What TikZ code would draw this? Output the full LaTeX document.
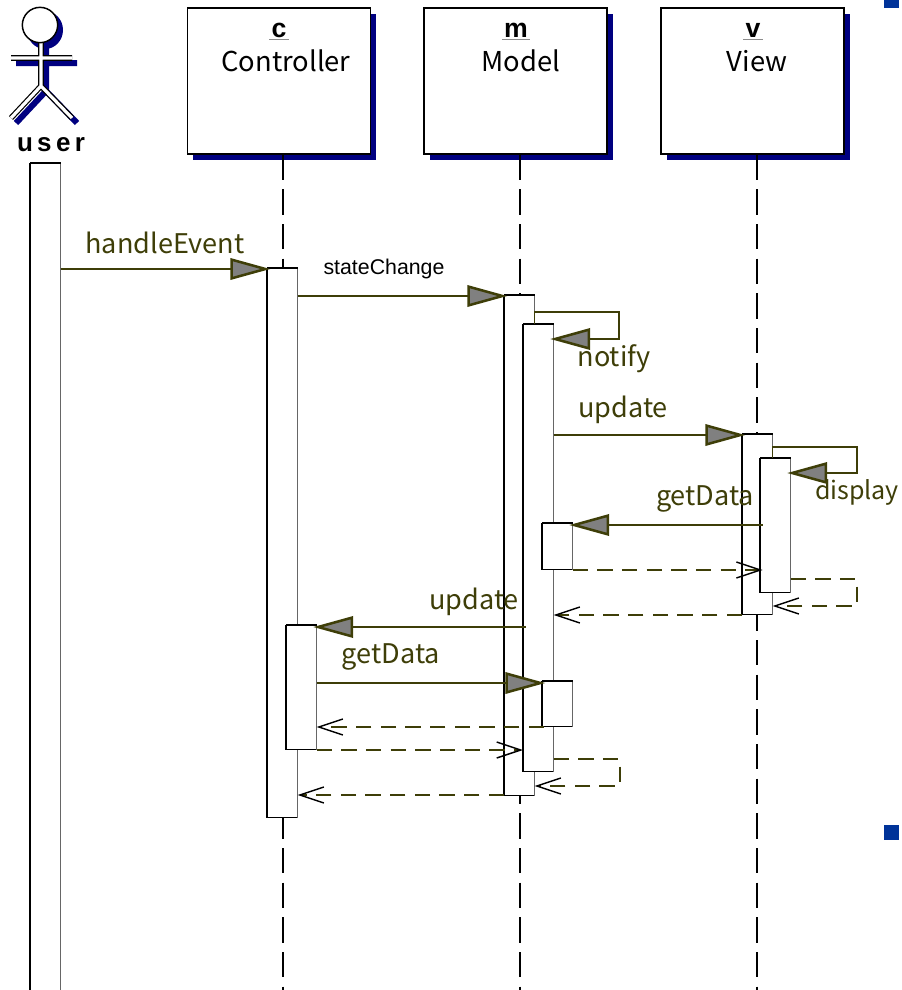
\documentclass[tikz,border=0pt]{standalone}
\usepackage{fontspec}
\setmainfont{Noto Sans CJK JP}
\newfontfamily\arialfont{Liberation Sans}
\usepackage{xcolor}
\usepackage{tikz}
\usetikzlibrary{arrows.meta, positioning, shadows}
\definecolor{msgcol}{RGB}{62,62,8}
\definecolor{tipgray}{RGB}{128,128,128}
\definecolor{shadownavy}{RGB}{0,0,128}
\definecolor{slideblue}{RGB}{0,51,153}
\tikzset{
    headbox/.style={rectangle, draw=black, line width=1.3pt, fill=white, anchor=north west, inner sep=0pt,
        minimum width=137.25pt, minimum height=109.5pt,
        general shadow={fill=shadownavy, shadow xshift=4.5pt, shadow yshift=-4.5pt}},
    headid/.style={font=\arialfont\bfseries\fontsize{20}{20}\selectfont, inner sep=1.5pt},
    headname/.style={font=\fontsize{20.5}{22}\selectfont, inner sep=0pt},
    lifeline/.style={draw=black, line width=1.5pt, dash pattern=on 19pt off 7pt},
    actbar/.style={rectangle, fill=white, inner sep=0pt, anchor=north west, minimum width=22.5pt,
        minimum height=#1*0.75pt,
        append after command={
            (\tikzlastnode.south west) edge[draw=black, line width=0.5pt] (\tikzlastnode.south east)
            (\tikzlastnode.south east) edge[draw=black!60, line width=0.5pt] (\tikzlastnode.north east)
            (\tikzlastnode.north east) edge[draw=black, line width=1.3pt] (\tikzlastnode.north west)
            (\tikzlastnode.north west) edge[draw=black, line width=1.3pt] (\tikzlastnode.south west)
        }},
    msg/.style={draw=msgcol, line width=1.3pt, shorten >=-2.5pt,
        -{Triangle[length=30pt, width=16pt, fill=tipgray, color=msgcol, line width=1.9pt]}},
    ret/.style={draw=msgcol, line width=1.3pt, dash pattern=on 11.5pt off 7pt,
        -{Straight Barb[length=18pt, width=12pt, black, line width=1.1pt]}},
    msglabel/.style={font=\fontsize{20.3}{22}\selectfont, text=msgcol, inner sep=0pt},
}

\begin{document}
\begin{tikzpicture}[x=0.75pt, y=-0.75pt]
    \clip (0,0) rectangle (901,990);
    % actor
    \coordinate (neck) at (41,43);
    \coordinate (hip) at (41,86);
    \coordinate (handl) at (11,58);
    \coordinate (handr) at (72,58);
    \coordinate (footl) at (11,118);
    \coordinate (footr) at (72,118);
    \draw[shadownavy, line width=4.5pt] (46,48) -- (46,91) (16,63) -- (77,63) (16,123) -- (46,91) -- (77,123);
    \fill[shadownavy] (45,30) ellipse (18 and 19);
    \draw[line width=0.9pt, draw=black, double=white, double distance=2.4pt] (neck) -- (hip) (handl) -- (handr) (footl) -- (hip) -- (footr);
    \node[circle, draw=black, line width=1.1pt, fill=white, minimum size=26.5pt, inner sep=0pt] (head) at (40,25) {};
    \node[font=\arialfont\bfseries\fontsize{19.5}{20}\selectfont, inner sep=0pt] (userlabel) at (51,145) {u\,s\,e\,r};

    % objects
    \node[headbox] (c) at (186.5,7) {};
    \node[headbox, right=39pt of c] (m) {};
    \node[headbox, right=39pt of m] (v) {};
    \node[headid] (cid) at (279,30) {c};
    \node[headid] (mid) at (516,30) {m};
    \node[headid] (vid) at (753,30) {v};
    \draw[black!45, line width=0.5pt] (cid.south west) -- (cid.south east);
    \draw[black!45, line width=0.5pt] (mid.south west) -- (mid.south east);
    \draw[black!45, line width=0.5pt] (vid.south west) -- (vid.south east);
    \node[headname] (cname) at (286,61) {Controller};
    \node[headname] (mname) at (521,61) {Model};
    \node[headname] (vname) at (757,61) {View};

    % life lines
    \coordinate (bottom) at (0,990);
    \draw[lifeline] ([xshift=3.4pt]c.south) -- ([xshift=3.4pt]c.south |- bottom);
    \draw[lifeline] ([xshift=3.4pt]m.south) -- ([xshift=3.4pt]m.south |- bottom);
    \draw[lifeline] ([xshift=3.4pt]v.south) -- ([xshift=3.4pt]v.south |- bottom);

    % activations
    \node[actbar=840] (ubar) at (30,163) {};
    \node[actbar=549] (c1) at (267,268) {};
    \node[actbar=124] (c2) at (286,625) {};
    \node[actbar=500] (m1) at (504,295) {};
    \node[actbar=447] (m2) at (523,324) {};
    \node[actbar=46] (m3) at (542,523) {};
    \node[actbar=45] (m4) at (542,681) {};
    \node[actbar=180] (v1) at (742,434) {};
    \node[actbar=134] (v2) at (760,458) {};

    % message levels
    \coordinate (y1) at (0,269);
    \coordinate (y2) at (0,296);
    \coordinate (y3) at (0,435);
    \coordinate (y4) at (0,525);
    \coordinate (y5) at (0,570);
    \coordinate (y6) at (0,615);
    \coordinate (y7) at (0,627);
    \coordinate (y8) at (0,683);
    \coordinate (y9) at (0,727);
    \coordinate (y10) at (0,750);
    \coordinate (y11) at (0,795);
    \coordinate (no1) at (619,312);
    \coordinate (no2) at (619,339);
    \coordinate (di1) at (857,447);
    \coordinate (di2) at (857,473);
    \coordinate (dr1) at (857,579);
    \coordinate (dr2) at (857,606);
    \coordinate (mr1) at (620,759);
    \coordinate (mr2) at (620,786);

    \draw[msg] (ubar.east |- y1) -- (c1.west |- y1);
    \draw[msg] (c1.east |- y2) -- (m1.west |- y2);
    \draw[msg] (m1.east |- m2.north) |- (no1) |- (m2.east |- no2);
    \draw[msg] (m2.east |- y3) -- (v1.west |- y3);
    \draw[msg] (v1.east |- v2.north) |- (di1) |- (v2.east |- di2);
    \draw[msg] ([xshift=2pt]v2.west |- y4) -- (m3.east |- y4);
    \draw[ret] (m3.east |- y5) -- ([xshift=2pt]v2.west |- y5);
    \draw[ret] (v2.east |- dr1) -| (dr1) |- (v1.east |- dr2);
    \draw[ret] (v1.west |- y6) -- (m2.east |- y6);
    \draw[msg] ([xshift=2pt]m2.west |- y7) -- (c2.east |- y7);
    \draw[msg] (c2.east |- y8) -- (m4.west |- y8);
    \draw[ret] ([xshift=1.5pt]m4.west |- y9) -- (c2.east |- y9);
    \draw[ret] (c2.east |- y10) -- (m2.west |- y10);
    \draw[ret] (m2.east |- mr1) -| (mr1) |- (m1.east |- mr2);
    \draw[ret] (m1.west |- y11) -- (c1.east |- y11);

    % labels
    \node[msglabel] (l1) at (165,243) {handleEvent};
    \node[font=\arialfont\fontsize{16}{18}\selectfont, inner sep=0pt] (l2) at (384,269) {stateChange};
    \node[msglabel] (l3) at (614,359) {notify};
    \node[msglabel] (l4) at (623,410) {update};
    \node[msglabel, font=\fontsize{18.8}{22}\selectfont] (l5) at (857,492) {display};
    \node[msglabel] (l6) at (705,499) {getData};
    \node[msglabel] (l7) at (474,602) {update};
    \node[msglabel] (l8) at (391,657) {getData};

    % slide bullets
    \node[rectangle, fill=slideblue, minimum width=11.25pt, minimum height=11.25pt, inner sep=0pt, anchor=north west] (b1) at (884,-7) {};
    \node[rectangle, fill=slideblue, minimum width=11.25pt, minimum height=11.25pt, inner sep=0pt, anchor=north west] (b2) at (884,825) {};
\end{tikzpicture}
\end{document}
